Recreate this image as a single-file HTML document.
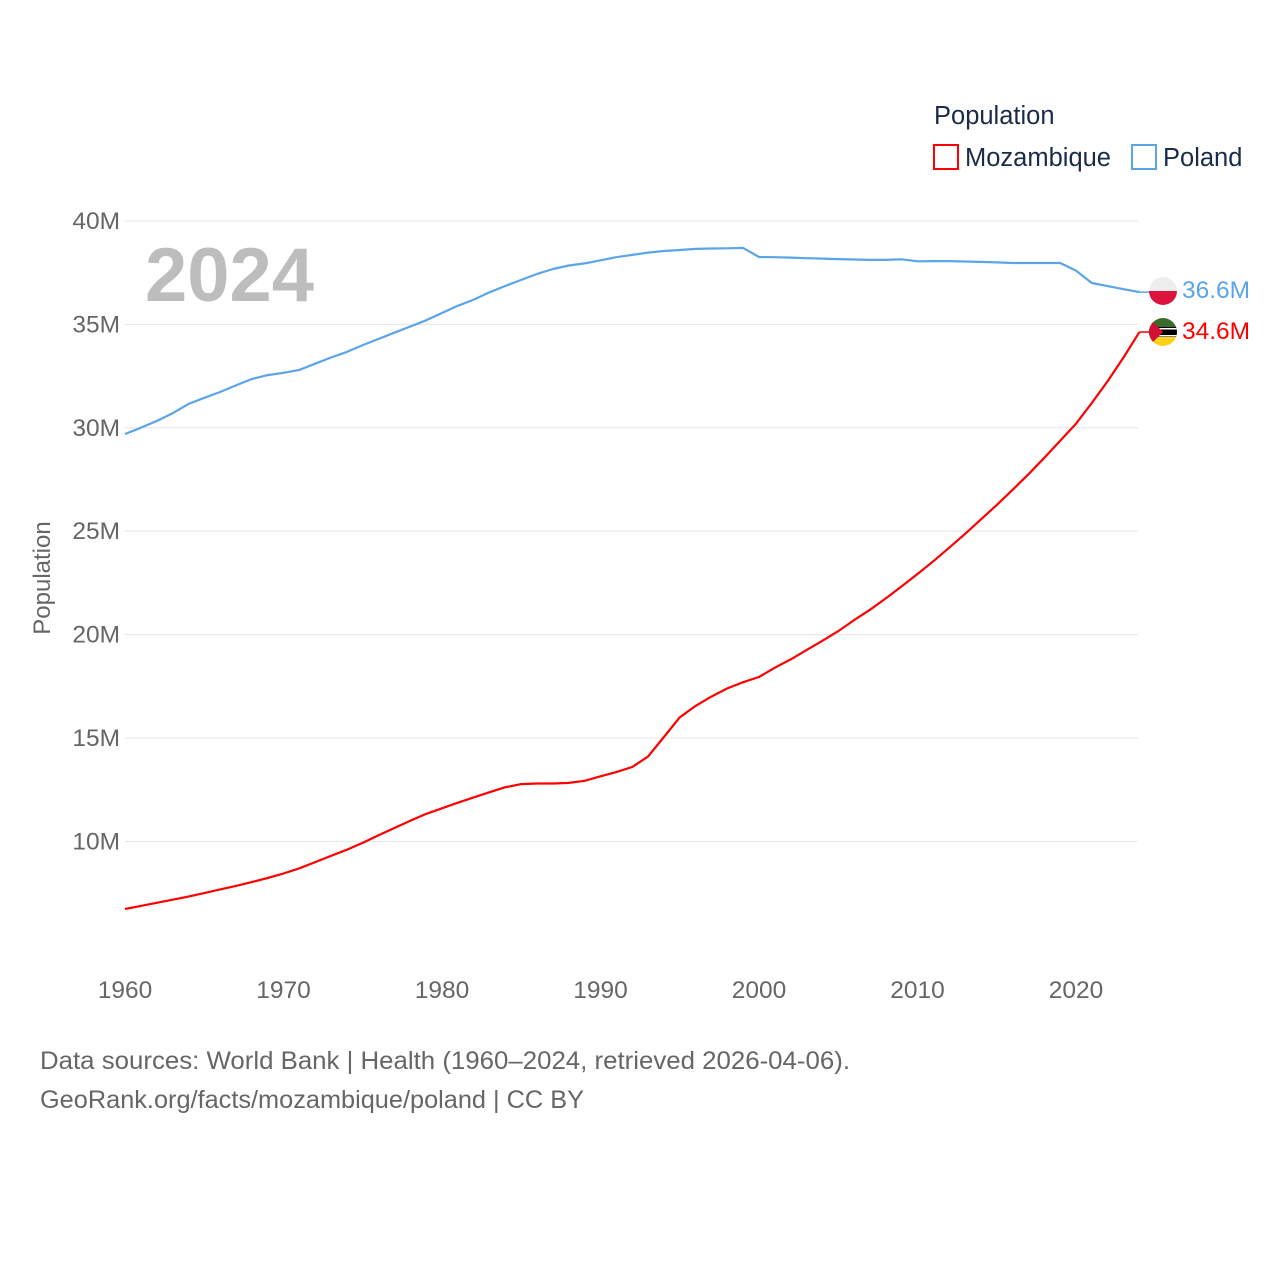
<!DOCTYPE html>
<html><head><meta charset="utf-8"><style>
body{margin:0;background:#fff;width:1280px;height:1280px;overflow:hidden;font-family:"Liberation Sans",sans-serif}
svg text{font-family:"Liberation Sans",sans-serif}
</style></head><body>
<svg id="chart" width="1280" height="1280">
<g id="grid"></g>
<g id="yticks"></g>
<g id="xticks"></g>
<text x="50" y="578" transform="rotate(-90 50 578)" text-anchor="middle" font-size="24" fill="#666">Population</text>
<text x="145" y="301" font-size="76" font-weight="bold" fill="#bdbdbd">2024</text>
<g>
<text x="934" y="124" font-size="25.5" fill="#1a2b4a">Population</text>
<g><rect x="934" y="145" width="24" height="24" fill="none" stroke="#f00" stroke-width="2"/><text x="965" y="166" font-size="25.5" fill="#1a2b4a">Mozambique</text></g>
<g><rect x="1132" y="145" width="24" height="24" fill="none" stroke="#5aa5ea" stroke-width="2"/><text x="1163" y="166" font-size="25.5" fill="#1a2b4a">Poland</text></g>
</g>
<g id="series"></g>
<g>
<clipPath id="cp1"><circle cx="1163" cy="291" r="14"/></clipPath>
<g clip-path="url(#cp1)"><rect x="1149" y="277" width="28" height="14" fill="#eee"/><rect x="1149" y="291" width="28" height="14" fill="#dc143c"/></g></g>
<g>
<clipPath id="cp2"><circle cx="1163" cy="332" r="14"/></clipPath>
<g clip-path="url(#cp2)"><rect x="1149" y="318" width="28" height="9" fill="#3a6b2a"/><rect x="1149" y="327" width="28" height="10" fill="#000"/><rect x="1149" y="328" width="28" height="1.5" fill="#fff"/><rect x="1149" y="335" width="28" height="1.5" fill="#fff"/><rect x="1149" y="337" width="28" height="9" fill="#fcd116"/><polygon points="1149,318 1163,332 1149,346" fill="#d21034"/></g></g>
<text x="1182" y="298" font-size="24.5" fill="#5aa5ea">36.6M</text>
<text x="1182" y="339" font-size="24.5" fill="#f00">34.6M</text>
<text x="40" y="1069" font-size="25" fill="#666" textLength="810" lengthAdjust="spacingAndGlyphs">Data sources: World Bank | Health (1960–2024, retrieved 2026-04-06).</text>
<text x="40" y="1108" font-size="25" fill="#666" textLength="544" lengthAdjust="spacingAndGlyphs">GeoRank.org/facts/mozambique/poland | CC BY</text>
</svg>
<script>
const years=[];for(let y=1960;y<=2024;y++)years.push(y);
const poland=[29.7,30.0,30.33,30.7,31.15,31.45,31.73,32.05,32.36,32.55,32.66,32.8,33.1,33.4,33.67,34.0,34.3,34.6,34.9,35.2,35.55,35.9,36.2,36.55,36.86,37.15,37.44,37.68,37.85,37.95,38.1,38.25,38.36,38.47,38.55,38.6,38.65,38.67,38.68,38.7,38.26,38.25,38.23,38.2,38.18,38.16,38.14,38.12,38.12,38.15,38.05,38.06,38.06,38.04,38.02,38.0,37.97,37.97,37.97,37.97,37.6,37.0,36.85,36.7,36.56];
const mozambique=[6.73,6.88,7.03,7.18,7.33,7.5,7.68,7.85,8.03,8.23,8.45,8.7,9.0,9.3,9.6,9.93,10.3,10.65,11.0,11.33,11.6,11.87,12.13,12.38,12.62,12.77,12.8,12.8,12.83,12.93,13.15,13.35,13.6,14.1,15.05,16.0,16.55,17.0,17.4,17.7,17.95,18.4,18.8,19.25,19.7,20.17,20.7,21.2,21.75,22.33,22.93,23.55,24.2,24.87,25.57,26.27,27.0,27.75,28.55,29.37,30.2,31.2,32.26,33.4,34.63];
const yTicks=[10,15,20,25,30,35,40];
const yLabels=["10M","15M","20M","25M","30M","35M","40M"];
const xTicks=[1960,1970,1980,1990,2000,2010,2020];
const NS="http://www.w3.org/2000/svg";
const X=y=>125+(y-1960)*15.85;
const Y=v=>221+(40-v)*20.68;
function mk(t,a,p){const e=document.createElementNS(NS,t);for(const k in a)e.setAttribute(k,a[k]);p.appendChild(e);return e;}
const grid=document.getElementById('grid'),yt=document.getElementById('yticks'),xt=document.getElementById('xticks'),ser=document.getElementById('series');
yTicks.forEach((v,i)=>{
 const l=mk('line',{x1:125,x2:1138,y1:Y(v),y2:Y(v),stroke:'#e6e6e6','stroke-width':1},grid);
 
 
 const t=mk('text',{x:120,y:Y(v)+8,'text-anchor':'end','font-size':24.5,fill:'#666'},yt);t.textContent=yLabels[i];
 
 
});
xTicks.forEach(v=>{
 const t=mk('text',{x:X(v),y:998,'text-anchor':'middle','font-size':24.5,fill:'#666'},xt);t.textContent=v;
 
 
});
function line(vals,color,name){
 const d=vals.map((v,i)=>(i?'L':'M')+X(years[i]).toFixed(1)+','+Y(v).toFixed(1)).join(' ');
 const p=mk('path',{d:d,fill:'none',stroke:color,'stroke-width':2.2,'stroke-linejoin':'round'},ser);
 
 
 const last=vals[vals.length-1];
 mk('line',{x1:X(years[years.length-1]),x2:1152,y1:Y(last),y2:Y(last),stroke:color,'stroke-width':1.5},ser);
}
line(poland,'#5aa5ea','line-poland');
line(mozambique,'#f00','line-mozambique');
</script>
</body></html>
